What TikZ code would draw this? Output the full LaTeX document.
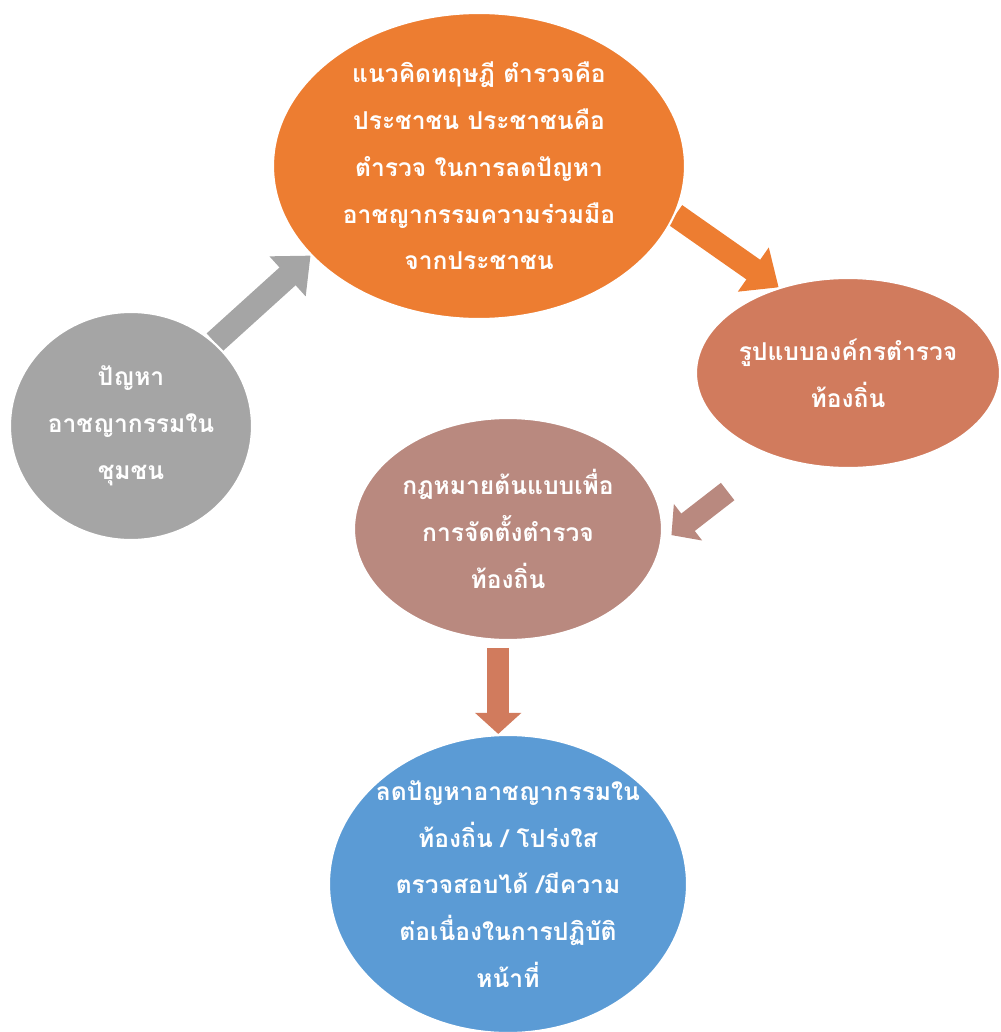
\documentclass[tikz,border=0pt]{standalone}
\usepackage{fontspec}
\newfontfamily\thaifont[Script=Thai]{Loma}
\usetikzlibrary{arrows.meta, shapes.geometric, backgrounds}

\definecolor{theoryorange}{HTML}{ED7D31}
\definecolor{problemgray}{HTML}{A5A5A5}
\definecolor{modelbrown}{HTML}{D17B5D}
\definecolor{lawmauve}{HTML}{B9897F}
\definecolor{resultblue}{HTML}{5B9BD5}

\begin{document}
\begin{tikzpicture}[
  blob/.style={ellipse, draw=white, line width=1.2pt, inner xsep=-1.6cm, inner ysep=-1cm, text=white, align=center},
  bigarrow/.style={line width=0.48cm, -{Triangle[length=0.62cm, width=1.04cm]}},
  smallarrow/.style={line width=0.44cm, -{Triangle[length=0.42cm, width=0.9cm]}},
  every node/.style={font=\thaifont\bfseries\fontsize{14}{26.6}\selectfont}
]
\useasboundingbox (0,0) rectangle (20,-20.64);

% Ellipses
\node[blob, fill=theoryorange, minimum width=8.24cm, minimum height=6.12cm] (theory) at (9.58,-3.32)
  {แนวคิดทฤษฎี ตำรวจคือ\\ประชาชน ประชาชนคือ\\ตำรวจ ในการลดปัญหา\\อาชญากรรมความร่วมมือ\\จากประชาชน};
\node[blob, fill=problemgray, minimum width=4.84cm, minimum height=4.56cm] (problem) at (2.62,-8.52)
  {ปัญหา\\อาชญากรรมใน\\ชุมชน};
\node[blob, fill=modelbrown, minimum width=6.08cm, minimum height=3.8cm] (model) at (16.96,-7.46)
  {รูปแบบองค์กรตำรวจ\\ท้องถิ่น};
\node[blob, fill=lawmauve, minimum width=6.16cm, minimum height=4.44cm] (law) at (10.16,-10.58)
  {กฎหมายต้นแบบเพื่อ\\การจัดตั้งตำรวจ\\ท้องถิ่น};
\node[blob, fill=resultblue, minimum width=7.16cm, minimum height=5.96cm] (result) at (10.16,-17.68)
  {ลดปัญหาอาชญากรรมใน\\ท้องถิ่น / โปร่งใส\\ตรวจสอบได้ /มีความ\\ต่อเนื่องในการปฏิบัติ\\หน้าที่};

% Block arrows behind the ellipses
\begin{pgfonlayer}{background}
\draw[bigarrow, problemgray] (problem.45) -- (theory.208);
\draw[bigarrow, theoryorange] (theory.-14) -- (model.129);
\draw[smallarrow, lawmauve, shorten <=1.14cm, shorten >=0.24cm] (model.228) -- (law.-5);
\draw[smallarrow, modelbrown, shorten <=0.14cm] (law.265) -- (law.265 |- result.north);
\end{pgfonlayer}

\end{tikzpicture}
\end{document}
